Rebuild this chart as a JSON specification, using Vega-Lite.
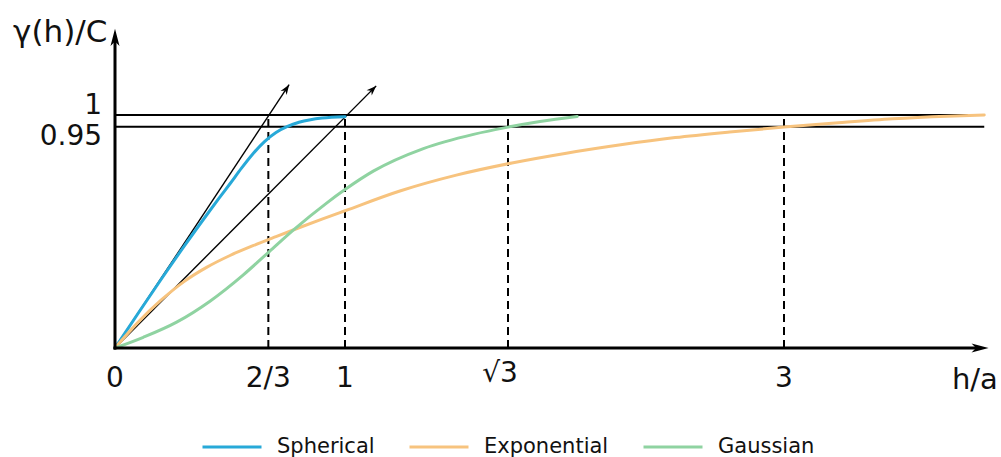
{
  "$schema": "https://vega.github.io/schema/vega-lite/v6.json",
  "width": 1001,
  "height": 457,
  "autosize": "none",
  "padding": 0,
  "background": "white",
  "config": {
    "view": {"stroke": null},
    "font": "DejaVu Sans"
  },
  "data": {"values": [{"anchor": 0}]},
  "datasets": {
    "curves": [
      {"model": "Spherical", "h": 0, "g": 0},
      {"model": "Spherical", "h": 0.1, "g": 0.148},
      {"model": "Spherical", "h": 0.2, "g": 0.294},
      {"model": "Spherical", "h": 0.3, "g": 0.436},
      {"model": "Spherical", "h": 0.4, "g": 0.573},
      {"model": "Spherical", "h": 0.45, "g": 0.64},
      {"model": "Spherical", "h": 0.5, "g": 0.705},
      {"model": "Spherical", "h": 0.55, "g": 0.772},
      {"model": "Spherical", "h": 0.6, "g": 0.834},
      {"model": "Spherical", "h": 0.65, "g": 0.886},
      {"model": "Spherical", "h": 0.7, "g": 0.925},
      {"model": "Spherical", "h": 0.75, "g": 0.951},
      {"model": "Spherical", "h": 0.8, "g": 0.969},
      {"model": "Spherical", "h": 0.85, "g": 0.98},
      {"model": "Spherical", "h": 0.9, "g": 0.987},
      {"model": "Spherical", "h": 1.0, "g": 0.993},
      {"model": "Exponential", "h": 0, "g": 0},
      {"model": "Exponential", "h": 0.1, "g": 0.11},
      {"model": "Exponential", "h": 0.2, "g": 0.205},
      {"model": "Exponential", "h": 0.3, "g": 0.285},
      {"model": "Exponential", "h": 0.4, "g": 0.347},
      {"model": "Exponential", "h": 0.5, "g": 0.397},
      {"model": "Exponential", "h": 0.6, "g": 0.439},
      {"model": "Exponential", "h": 0.7, "g": 0.478},
      {"model": "Exponential", "h": 0.8, "g": 0.516},
      {"model": "Exponential", "h": 0.9, "g": 0.553},
      {"model": "Exponential", "h": 1.0, "g": 0.589},
      {"model": "Exponential", "h": 1.25, "g": 0.675},
      {"model": "Exponential", "h": 1.5, "g": 0.742},
      {"model": "Exponential", "h": 1.75, "g": 0.794},
      {"model": "Exponential", "h": 2.0, "g": 0.836},
      {"model": "Exponential", "h": 2.25, "g": 0.872},
      {"model": "Exponential", "h": 2.5, "g": 0.903},
      {"model": "Exponential", "h": 2.75, "g": 0.927},
      {"model": "Exponential", "h": 3.0, "g": 0.948},
      {"model": "Exponential", "h": 3.25, "g": 0.967},
      {"model": "Exponential", "h": 3.5, "g": 0.984},
      {"model": "Exponential", "h": 3.75, "g": 0.995},
      {"model": "Exponential", "h": 3.92, "g": 1.0},
      {"model": "Gaussian", "h": 0, "g": 0},
      {"model": "Gaussian", "h": 0.123, "g": 0.046},
      {"model": "Gaussian", "h": 0.268, "g": 0.111},
      {"model": "Gaussian", "h": 0.413, "g": 0.201},
      {"model": "Gaussian", "h": 0.558, "g": 0.314},
      {"model": "Gaussian", "h": 0.671, "g": 0.414},
      {"model": "Gaussian", "h": 0.775, "g": 0.506},
      {"model": "Gaussian", "h": 0.92, "g": 0.622},
      {"model": "Gaussian", "h": 1.0, "g": 0.68},
      {"model": "Gaussian", "h": 1.127, "g": 0.759},
      {"model": "Gaussian", "h": 1.352, "g": 0.856},
      {"model": "Gaussian", "h": 1.577, "g": 0.917},
      {"model": "Gaussian", "h": 1.732, "g": 0.948},
      {"model": "Gaussian", "h": 1.879, "g": 0.972},
      {"model": "Gaussian", "h": 2.05, "g": 0.994}
    ],
    "levels": [{"g": 1, "h0": 0, "h1": 3.92}, {"g": 0.95, "h0": 0, "h1": 3.92}],
    "ranges": [{"h": 0.6667, "g0": 0, "g1": 1}, {"h": 1, "g0": 0, "g1": 1}, {"h": 1.732, "g0": 0, "g1": 1}, {"h": 3, "g0": 0, "g1": 1}],
    "tangents": [
      {"name": "spherical", "h0": 0, "g0": 0, "h1": 0.757, "g1": 1.13},
      {"name": "exponential", "h0": 0, "g0": 0, "h1": 1.14, "g1": 1.125}
    ],
    "axes": [
      {"name": "y", "h0": 0, "g0": 0, "h1": 0, "g1": 1.32, "htip": 0, "gtip": 1.37},
      {"name": "x", "h0": 0, "g0": 0, "h1": 3.88, "g1": 0, "htip": 3.94, "gtip": 0}
    ],
    "xticks": [
      {"h": 0, "label": "0"},
      {"h": 0.6667, "label": "2/3"},
      {"h": 1, "label": "1"},
      {"h": 3, "label": "3"}
    ],
    "sqrtTick": [{"h": 1.732, "label": "√3"}]
  },
  "layer": [
    {
      "data": {"name": "levels"},
      "mark": {"type": "rule", "color": "black", "strokeWidth": 2},
      "encoding": {
        "y": {"field": "g", "type": "quantitative", "axis": null,
              "scale": {"domain": [0, 1], "range": [348, 115], "nice": false, "zero": false}},
        "x": {"field": "h0", "type": "quantitative", "axis": null,
              "scale": {"type": "linear", "domain": [0, 1, 1.732, 3], "range": [115, 345, 508, 784], "nice": false, "zero": false}},
        "x2": {"field": "h1"}
      }
    },
    {
      "data": {"name": "ranges"},
      "mark": {"type": "rule", "color": "black", "strokeWidth": 2, "strokeDash": [8, 5]},
      "encoding": {
        "x": {"field": "h", "type": "quantitative", "axis": null},
        "y": {"field": "g0", "type": "quantitative", "axis": null},
        "y2": {"field": "g1"}
      }
    },
    {
      "data": {"name": "tangents"},
      "mark": {"type": "rule", "color": "black", "strokeWidth": 1.4},
      "encoding": {
        "x": {"field": "h0", "type": "quantitative", "axis": null},
        "y": {"field": "g0", "type": "quantitative", "axis": null},
        "x2": {"field": "h1"},
        "y2": {"field": "g1"}
      }
    },
    {
      "data": {"name": "curves"},
      "mark": {"type": "line", "interpolate": "monotone", "strokeCap": "round", "strokeWidth": 3},
      "encoding": {
        "x": {"field": "h", "type": "quantitative", "axis": null},
        "y": {"field": "g", "type": "quantitative", "axis": null},
        "color": {
          "field": "model", "type": "nominal",
          "scale": {"domain": ["Spherical", "Exponential", "Gaussian"], "range": ["#27a9d8", "#f7c37e", "#8fd3a1"]},
          "legend": {
            "orient": "none", "direction": "horizontal", "legendX": 201, "legendY": 416,
            "title": null, "symbolType": "stroke", "symbolSize": 3481, "symbolStrokeWidth": 3,
            "labelFontSize": 21, "labelFont": "DejaVu Sans", "labelColor": "#111",
            "labelOffset": 14, "columnPadding": 28, "padding": 0
          }
        },
        "order": {"field": "h", "type": "quantitative"}
      }
    },
    {
      "data": {"name": "axes"},
      "mark": {"type": "rule", "color": "black", "strokeWidth": 3, "strokeCap": "square"},
      "encoding": {
        "x": {"field": "h0", "type": "quantitative", "axis": null},
        "y": {"field": "g0", "type": "quantitative", "axis": null},
        "x2": {"field": "h1"},
        "y2": {"field": "g1"}
      }
    },
    {
      "data": {"name": "axes"},
      "transform": [{"filter": "datum.name === 'y'"}],
      "mark": {"type": "point", "shape": "M0,0L0.5,1.9L0,1.4L-0.5,1.9Z", "size": 324, "filled": true, "color": "black", "opacity": 1, "strokeWidth": 0, "angle": 0},
      "encoding": {"x": {"field": "htip", "type": "quantitative", "axis": null}, "y": {"field": "gtip", "type": "quantitative", "axis": null}}
    },
    {
      "data": {"name": "axes"},
      "transform": [{"filter": "datum.name === 'x'"}],
      "mark": {"type": "point", "shape": "M0,0L0.5,1.9L0,1.4L-0.5,1.9Z", "size": 324, "filled": true, "color": "black", "opacity": 1, "strokeWidth": 0, "angle": 90},
      "encoding": {"x": {"field": "htip", "type": "quantitative", "axis": null}, "y": {"field": "gtip", "type": "quantitative", "axis": null}}
    },
    {
      "data": {"name": "tangents"},
      "transform": [{"filter": "datum.name === 'spherical'"}],
      "mark": {"type": "point", "shape": "M0,0L0.7,1.9L0,1.3L-0.7,1.9Z", "size": 110, "filled": true, "color": "black", "opacity": 1, "strokeWidth": 0, "angle": 33.5},
      "encoding": {"x": {"field": "h1", "type": "quantitative", "axis": null}, "y": {"field": "g1", "type": "quantitative", "axis": null}}
    },
    {
      "data": {"name": "tangents"},
      "transform": [{"filter": "datum.name === 'exponential'"}],
      "mark": {"type": "point", "shape": "M0,0L0.7,1.9L0,1.3L-0.7,1.9Z", "size": 110, "filled": true, "color": "black", "opacity": 1, "strokeWidth": 0, "angle": 45},
      "encoding": {"x": {"field": "h1", "type": "quantitative", "axis": null}, "y": {"field": "g1", "type": "quantitative", "axis": null}}
    },
    {
      "data": {"name": "xticks"},
      "mark": {"type": "text", "fontSize": 28, "align": "center", "baseline": "alphabetic", "color": "#111"},
      "encoding": {
        "x": {"field": "h", "type": "quantitative", "axis": null},
        "y": {"datum": -0.167, "type": "quantitative", "axis": null},
        "text": {"field": "label", "type": "nominal"}
      }
    },
    {
      "data": {"name": "sqrtTick"},
      "mark": {"type": "text", "fontSize": 28, "align": "center", "baseline": "alphabetic", "color": "#111", "dx": -8, "dy": -5},
      "encoding": {
        "x": {"field": "h", "type": "quantitative", "axis": null},
        "y": {"datum": -0.167, "type": "quantitative", "axis": null},
        "text": {"field": "label", "type": "nominal"}
      }
    },
    {
      "data": {"name": "levels"},
      "transform": [{"filter": "datum.g === 1"}],
      "mark": {"type": "text", "fontSize": 28, "align": "right", "baseline": "alphabetic", "color": "#111", "dy": -1},
      "encoding": {
        "x": {"datum": -0.0565, "type": "quantitative", "axis": null},
        "y": {"field": "g", "type": "quantitative", "axis": null},
        "text": {"field": "g", "type": "quantitative", "format": "~g"}
      }
    },
    {
      "data": {"name": "levels"},
      "transform": [{"filter": "datum.g === 0.95"}],
      "mark": {"type": "text", "fontSize": 28, "align": "right", "baseline": "alphabetic", "color": "#111", "dy": 18},
      "encoding": {
        "x": {"datum": -0.0565, "type": "quantitative", "axis": null},
        "y": {"field": "g", "type": "quantitative", "axis": null},
        "text": {"field": "g", "type": "quantitative", "format": ".2f"}
      }
    },
    {
      "mark": {"type": "text", "fontSize": 31, "align": "left", "baseline": "alphabetic", "color": "#111"},
      "encoding": {"x": {"datum": -0.443, "type": "quantitative", "axis": null}, "y": {"datum": 1.313, "type": "quantitative", "axis": null}, "text": {"value": "γ(h)/C"}}
    },
    {
      "mark": {"type": "text", "fontSize": 29, "align": "center", "baseline": "alphabetic", "color": "#111"},
      "encoding": {"x": {"datum": 3.877, "type": "quantitative", "axis": null}, "y": {"datum": -0.175, "type": "quantitative", "axis": null}, "text": {"value": "h/a"}}
    }
  ]
}
